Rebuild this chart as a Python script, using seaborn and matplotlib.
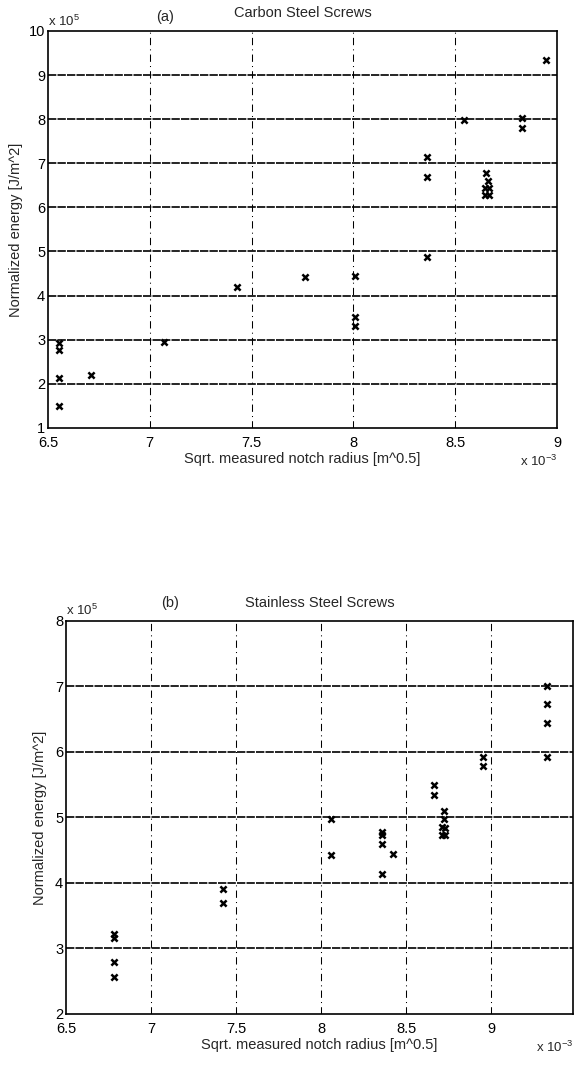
import matplotlib
matplotlib.use("Agg")
import matplotlib.pyplot as plt
import seaborn as sns
import pandas as pd

# Carbon steel screws: sqrt notch radius (x 1e-3 m^0.5), normalized energy (x 1e5 J/m^2)
carbon_x = [6.555, 6.555, 6.555, 6.555, 6.71, 7.07, 7.43, 7.76, 8.01, 8.01, 8.01,
            8.36, 8.36, 8.36, 8.545, 8.83, 8.83,
            8.65, 8.66, 8.645, 8.665, 8.645, 8.665, 8.945]
carbon_y = [2.93, 2.77, 2.14, 1.49, 2.21, 2.95, 4.19, 4.41, 4.44, 3.52, 3.32,
            4.87, 7.14, 6.68, 7.98, 8.02, 7.79,
            6.77, 6.60, 6.45, 6.44, 6.28, 6.28, 9.33]

# Stainless steel screws
stainless_x = [6.78, 6.78, 6.78, 6.78, 7.42, 7.42, 8.06, 8.06,
               8.36, 8.36, 8.36, 8.36, 8.42, 8.665, 8.665,
               8.72, 8.72, 8.71, 8.73, 8.71, 8.73, 8.95, 8.95,
               9.33, 9.33, 9.33, 9.33]
stainless_y = [3.22, 3.16, 2.79, 2.56, 3.91, 3.70, 4.98, 4.42,
               4.78, 4.74, 4.60, 4.13, 4.45, 5.50, 5.35,
               5.10, 4.97, 4.85, 4.84, 4.74, 4.73, 5.92, 5.79,
               7.00, 6.74, 6.44, 5.93]

x_ticks = [6.5, 7, 7.5, 8, 8.5, 9]
x_tick_labels = ["6.5", "7", "7.5", "8", "8.5", "9"]
carbon_y_ticks = [1, 2, 3, 4, 5, 6, 7, 8, 9, 10]
stainless_y_ticks = [2, 3, 4, 5, 6, 7, 8]

sns.set_style("white")
plt.rcParams["font.family"] = ["Liberation Sans", "DejaVu Sans"]
plt.rcParams["mathtext.fontset"] = "custom"
plt.rcParams["mathtext.rm"] = "Liberation Sans"

fig = plt.figure(figsize=(5.82, 10.67), dpi=100)
ax_a = fig.add_axes([0.0825, 0.599, 0.8745, 0.372])
ax_b = fig.add_axes([0.1134, 0.0497, 0.8711, 0.3683])

FS = 10.5
XLABEL = "Sqrt. measured notch radius [m^0.5]"
YLABEL = "Normalized energy [J/m^2]"


def style_axes(ax, xlim, ylim, yticks, ylabelpad):
    ax.set_xlim(*xlim)
    ax.set_ylim(*ylim)
    ax.set_xticks(x_ticks)
    ax.set_xticklabels(x_tick_labels, fontsize=FS)
    ax.set_yticks(yticks)
    ax.set_yticklabels([str(v) for v in yticks], fontsize=FS)
    ax.tick_params(direction="in", length=3, width=0.8, colors="black")
    ax.tick_params(axis="x", pad=6)
    ax.tick_params(axis="y", pad=2)
    for y in yticks[1:-1]:
        ax.axhline(y, color="black", lw=1.2, ls=(0, (5, 0.7)), zorder=1)
    for x in x_ticks[1:]:
        if x < xlim[1] - 1e-6:
            ax.axvline(x, color="black", lw=0.75, ls=(0, (7, 4, 1, 4)), zorder=1)
    for s in ax.spines.values():
        s.set_color("black")
        s.set_linewidth(1.2)
    ax.set_xlabel(XLABEL, fontsize=FS, labelpad=1)
    ax.set_ylabel(YLABEL, fontsize=FS, labelpad=ylabelpad)


df_a = pd.DataFrame({"r": carbon_x, "e": carbon_y})
df_b = pd.DataFrame({"r": stainless_x, "e": stainless_y})

sns.scatterplot(data=df_a, x="r", y="e", ax=ax_a, marker="x", s=20,
                color="black", linewidth=1.8, zorder=3)
sns.scatterplot(data=df_b, x="r", y="e", ax=ax_b, marker="x", s=20,
                color="black", linewidth=1.8, zorder=3)

style_axes(ax_a, (6.5, 9.0), (1, 10), carbon_y_ticks, 4)
style_axes(ax_b, (6.5, 9.48), (2, 8), stainless_y_ticks, 6)

# titles and panel letters
ax_a.set_title("Carbon Steel Screws", fontsize=FS, pad=10)
ax_b.set_title("Stainless Steel Screws", fontsize=FS, pad=10)
fig.text(165 / 582, 1 - 17 / 1067, "(a)", fontsize=FS, ha="center", va="center")
fig.text(170 / 582, 1 - 603 / 1067, "(b)", fontsize=FS, ha="center", va="center")

# exponent multipliers
fig.text(48 / 582, 1 - 29 / 1067, r"x 10$^{5}$", fontsize=FS - 1, ha="left", va="bottom")
fig.text(66 / 582, 1 - 618 / 1067, r"x 10$^{5}$", fontsize=FS - 1, ha="left", va="bottom")
fig.text(557 / 582, 1 - 461 / 1067, r"x 10$^{-3}$", fontsize=FS - 1, ha="right", va="center")
fig.text(573 / 582, 1 - 1047 / 1067, r"x 10$^{-3}$", fontsize=FS - 1, ha="right", va="center")

fig.savefig("out.png", dpi=100, facecolor="white")
